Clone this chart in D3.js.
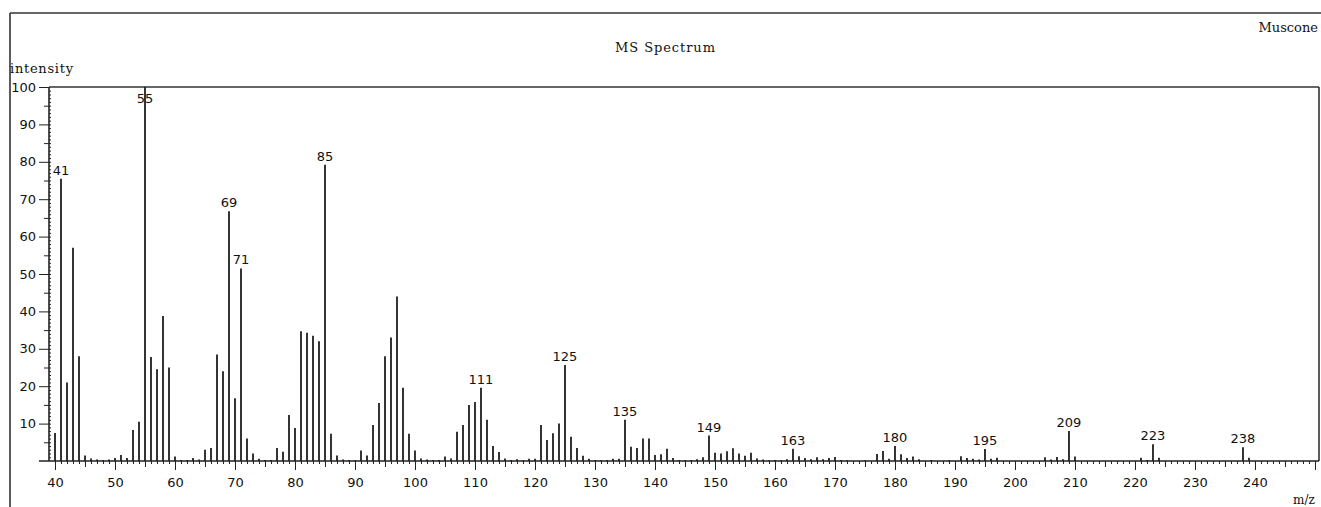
<!DOCTYPE html>
<html>
<head>
<meta charset="utf-8">
<script src="https://cdn.jsdelivr.net/npm/d3@7"></script>
<style>
  body { margin: 0; background: #fff; }
  svg { display: block; }
  .axis text { font-family: "DejaVu Sans", sans-serif; font-size: 13px; fill: #111; }
  .axis path, .axis line { stroke: #222; }
</style>
</head>
<body>
<div id="chart"></div>
<script>
// m/z values and their relative intensities (%)
const mzValues = [
  40, 41, 42, 43, 44, 45, 46, 47, 48, 49,
  50, 51, 52, 53, 54, 55, 56, 57, 58, 59,
  60, 61, 62, 63, 64, 65, 66, 67, 68, 69,
  70, 71, 72, 73, 74, 75, 76, 77, 78, 79,
  80, 81, 82, 83, 84, 85, 86, 87, 88, 89,
  90, 91, 92, 93, 94, 95, 96, 97, 98, 99,
  100, 101, 102, 103, 104, 105, 106, 107, 108, 109,
  110, 111, 112, 113, 114, 115, 116, 117, 118, 119,
  120, 121, 122, 123, 124, 125, 126, 127, 128, 129,
  130, 131, 132, 133, 134, 135, 136, 137, 138, 139,
  140, 141, 142, 143, 144, 145, 146, 147, 148, 149,
  150, 151, 152, 153, 154, 155, 156, 157, 158, 159,
  160, 161, 162, 163, 164, 165, 166, 167, 168, 169,
  170, 171, 172, 175, 177, 178, 179, 180, 181, 182,
  183, 184, 186, 189, 191, 192, 193, 194, 195, 196,
  197, 205, 206, 207, 208, 209, 210, 221, 222, 223,
  224, 238, 239
];
const intensities = [
  7.5, 75.5, 21, 57, 28, 1.5, 0.7, 0.4, 0.3, 0.4,
  0.8, 1.6, 0.8, 8.3, 10.5, 100, 27.8, 24.5, 38.8, 25,
  1.2, 0.3, 0.3, 0.8, 0.4, 3, 3.5, 28.5, 24, 66.8,
  16.8, 51.5, 6, 2, 0.6, 0.3, 0.3, 3.5, 2.5, 12.3,
  8.8, 34.7, 34.3, 33.5, 32, 79.2, 7.3, 1.5, 0.4, 0.3,
  0.2, 2.8, 1.5, 9.6, 15.5, 28, 33, 44, 19.6, 7.3,
  2.8, 0.7, 0.4, 0.3, 0.3, 1.2, 0.7, 7.8, 9.6, 15,
  15.8, 19.6, 11, 4, 2.4, 0.7, 0.3, 0.5, 0.2, 0.6,
  0.6, 9.6, 5.6, 7.4, 10, 25.7, 6.5, 3.5, 1.4, 0.6,
  0.3, 0.2, 0.3, 0.6, 0.6, 11, 3.8, 3.5, 6, 6,
  1.6, 1.8, 3.3, 0.8, 0.3, 0.2, 0.3, 0.5, 1, 6.8,
  2.2, 2, 2.6, 3.4, 2, 1.4, 2.2, 0.7, 0.4, 0.2,
  0.3, 0.2, 0.5, 3.3, 1.3, 0.8, 0.5, 1, 0.5, 0.8,
  1.1, 0.3, 0.2, 0.2, 1.9, 2.7, 0.6, 4, 1.8, 0.8,
  1.2, 0.5, 0.3, 0.2, 1.3, 0.8, 0.6, 0.4, 3.2, 0.6,
  0.9, 1, 0.4, 1.1, 0.5, 8, 1.2, 0.9, 0.3, 4.5,
  0.9, 3.7, 0.9
];
const labeledPeaks = [41, 55, 69, 71, 85, 111, 125, 135, 149, 163, 180, 195, 209, 223, 238];
const xTicks = [40, 50, 60, 70, 80, 90, 100, 110, 120, 130, 140, 150, 160, 170, 180, 190, 200, 210, 220, 230, 240, 250];
const yTicks = [10, 20, 30, 40, 50, 60, 70, 80, 90, 100];

const W = 1321, H = 507;
const plot = { left: 49, right: 1319, top: 87, bottom: 461 };

const svg = d3.select("#chart").append("svg")
  .attr("width", W)
  .attr("height", H);

const x = d3.scaleLinear().domain([39, 250.67]).range([plot.left, plot.right]);
const y = d3.scaleLinear().domain([0, 100]).range([plot.bottom, plot.top]);

const peaks = mzValues.map((mz, i) => ({ mz: mz, v: intensities[i] }));

// outer frame (top + left only, like the screenshot)
svg.append("line")
  .attr("x1", 10).attr("x2", W).attr("y1", 13).attr("y2", 13)
  .attr("stroke", "#333").attr("stroke-width", 1.6);
svg.append("line")
  .attr("x1", 10).attr("x2", 10).attr("y1", 13).attr("y2", H)
  .attr("stroke", "#333").attr("stroke-width", 1.6);

// plot top and right edges
svg.append("line")
  .attr("x1", plot.left).attr("x2", plot.right).attr("y1", plot.top).attr("y2", plot.top)
  .attr("stroke", "#333").attr("stroke-width", 1.6);
svg.append("line")
  .attr("x1", plot.right).attr("x2", plot.right).attr("y1", plot.top).attr("y2", plot.bottom)
  .attr("stroke", "#333").attr("stroke-width", 1.6);

// titles
svg.append("text")
  .attr("x", 665).attr("y", 52)
  .attr("text-anchor", "middle")
  .style("font-family", "'DejaVu Serif', serif").style("font-size", "13px")
  .attr("textLength", 100).attr("fill", "#111")
  .text("MS Spectrum");
svg.append("text")
  .attr("x", 1318).attr("y", 32)
  .attr("text-anchor", "end")
  .style("font-family", "'DejaVu Serif', serif").style("font-size", "13px")
  .attr("fill", "#111")
  .text("Muscone");
svg.append("text")
  .attr("x", 10).attr("y", 73)
  .style("font-family", "'DejaVu Serif', serif").style("font-size", "13px")
  .attr("textLength", 63).attr("fill", "#111")
  .text("intensity");
svg.append("text")
  .attr("x", 1293).attr("y", 504)
  .style("font-family", "'DejaVu Serif', serif").style("font-size", "12px")
  .attr("fill", "#111")
  .text("m/z");

// y axis: minor (every 1), half (every 5) and labelled major ticks
svg.append("g")
  .attr("class", "axis")
  .attr("transform", `translate(${plot.left},0)`)
  .call(d3.axisRight(y).tickValues(d3.range(1, 100)).tickSize(2).tickFormat(""))
  .call(g => g.select(".domain").remove());
svg.append("g")
  .attr("class", "axis")
  .attr("transform", `translate(${plot.left},0)`)
  .call(d3.axisLeft(y).tickValues(d3.range(5, 100, 10)).tickSize(5).tickFormat(""))
  .call(g => g.select(".domain").remove());
svg.append("g")
  .attr("class", "axis")
  .attr("transform", `translate(${plot.left},0)`)
  .call(d3.axisLeft(y).tickValues(yTicks).tickSize(10).tickPadding(3))
  .call(g => g.select(".domain").attr("d", `M0,${plot.top}V${plot.bottom}`).attr("stroke-width", 1.6));

// x axis
svg.append("g")
  .attr("class", "axis")
  .attr("transform", `translate(0,${plot.bottom})`)
  .call(d3.axisBottom(x).tickValues(d3.range(40, 251)).tickSize(3).tickFormat(""))
  .call(g => g.select(".domain").remove());
svg.append("g")
  .attr("class", "axis")
  .attr("transform", `translate(0,${plot.bottom})`)
  .call(d3.axisBottom(x).tickValues(d3.range(45, 251, 10)).tickSize(6).tickFormat(""))
  .call(g => g.select(".domain").remove());
svg.append("g")
  .attr("class", "axis")
  .attr("transform", `translate(0,${plot.bottom})`)
  .call(d3.axisBottom(x).tickValues(xTicks).tickSize(9).tickPadding(8)
    .tickFormat(d => d === 250 ? "" : d))
  .call(g => g.select(".domain").attr("d", `M${plot.left - 10},0H${plot.right}`).attr("stroke-width", 1.6));

// peaks
svg.append("g")
  .selectAll("line")
  .data(peaks)
  .join("line")
  .attr("x1", d => x(d.mz)).attr("x2", d => x(d.mz))
  .attr("y1", y(0)).attr("y2", d => y(d.v))
  .attr("stroke", "#1e1e1e")
  .attr("stroke-width", 1.8);

// peak labels
svg.append("g")
  .selectAll("text")
  .data(peaks.filter(d => labeledPeaks.includes(d.mz)))
  .join("text")
  .attr("x", d => x(d.mz))
  .attr("y", d => Math.max(y(d.v) - 4, plot.top + 16))
  .attr("text-anchor", "middle")
  .style("font-family", "'DejaVu Sans', sans-serif")
  .style("font-size", "13px")
  .attr("fill", "#111")
  .text(d => d.mz);
</script>
</body>
</html>
